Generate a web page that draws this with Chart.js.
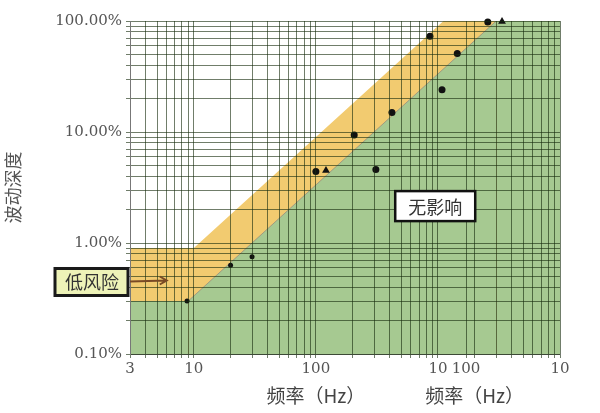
<!DOCTYPE html>
<html lang="zh">
<head>
<meta charset="UTF-8">
<title>波动深度</title>
<script src="https://cdn.jsdelivr.net/npm/chart.js@4.4.1/dist/chart.umd.min.js"></script>
<style>
html, body { margin: 0; padding: 0; background: #fff; }
#wrap { width: 600px; height: 413px; }
</style>
</head>
<body>
<div id="wrap"><canvas id="chart"></canvas></div>
<script>
// measured points: frequency (Hz) / fluctuation depth (%)
const dotFreq  = [8.8, 20, 30, 100, 206, 310, 420, 860, 1080, 1440, 2560];
const dotDepth = [0.3, 0.63, 0.75, 4.4, 9.4, 4.6, 15, 73, 24, 51, 98];
const triFreq  = [121, 3350];
const triDepth = [4.5, 99];

// zone edges (green = no effect, orange = low risk)
const lowEdgeFreq   = [3, 9, 3000, 10000];
const lowEdgeDepth  = [0.3, 0.3, 100, 100];
const highEdgeFreq  = [3, 10, 1110, 10000];
const highEdgeDepth = [0.9, 0.9, 100, 100];

// tick labels as printed on the picture
const xTickValues = [3, 10, 100, 1000, 1700, 10000];
const xTickLabels = ['3', '10', '100', '10', '100', '10'];
const yTickValues = [0.1, 1, 10, 100];
const yTickLabels = ['0.10%', '1.00%', '10.00%', '100.00%'];

const pts = (xs, ys) => xs.map((v, i) => ({ x: v, y: ys[i] }));

function gridTicks(min, max, extra) {
  const out = [];
  for (let e = -1; e <= 4; e++) {
    for (let m = 1; m <= 9; m++) {
      const v = +(m * Math.pow(10, e)).toPrecision(3);
      if (v >= min && v <= max) out.push(v);
    }
  }
  extra.forEach(v => { if (!out.includes(v)) out.push(v); });
  return out.sort((a, b) => a - b).map(v => ({ value: v }));
}

function labelFor(values, labels, v) {
  const i = values.findIndex(t => Math.abs(t - v) / t < 1e-6);
  return i < 0 ? '' : labels[i];
}

const serif = '"DejaVu Serif", "Liberation Serif", serif';
const cjk = '"Noto Sans CJK SC", sans-serif';

const notes = {
  id: 'notes',
  afterDraw(chart) {
    const { ctx, scales: { x, y } } = chart;
    ctx.save();

    // 无影响 box
    let cx = x.getPixelForValue(950), cy = y.getPixelForValue(2.15);
    ctx.fillStyle = '#fff';
    ctx.fillRect(cx - 40, cy - 15, 80, 30);
    ctx.lineWidth = 2.5;
    ctx.strokeStyle = '#111';
    ctx.strokeRect(cx - 40, cy - 15, 80, 30);
    ctx.fillStyle = '#333';
    ctx.font = '18px ' + cjk;
    ctx.textAlign = 'center';
    ctx.textBaseline = 'middle';
    ctx.fillText('无影响', cx, cy + 1);

    // 低风险 box + arrow
    cy = y.getPixelForValue(0.45);
    const right = x.left - 2;
    ctx.fillStyle = '#eef3b8';
    ctx.fillRect(right - 73, cy - 13, 73, 27);
    ctx.lineWidth = 3;
    ctx.strokeStyle = '#1a1a1a';
    ctx.strokeRect(right - 73, cy - 13, 73, 27);
    ctx.fillStyle = '#333';
    ctx.fillText('低风险', right - 36, cy + 1);

    const ax = x.getPixelForValue(6);
    ctx.strokeStyle = '#7a4a25';
    ctx.lineWidth = 2;
    ctx.beginPath();
    ctx.moveTo(right + 2, cy);
    ctx.lineTo(ax, cy - 1);
    ctx.moveTo(ax - 7, cy - 5);
    ctx.lineTo(ax, cy - 1);
    ctx.lineTo(ax - 7, cy + 3);
    ctx.stroke();

    // two axis titles, as in the stitched picture
    ctx.fillStyle = '#444';
    ctx.font = '19px ' + cjk;
    [100, 2000].forEach(f => {
      ctx.fillText('频率（Hz）', x.getPixelForValue(f), 396);
    });
    ctx.restore();
  }
};

const gridStyle = { color: 'rgba(25,45,15,0.62)', lineWidth: 1, tickLength: 4, z: 1 };

new Chart(document.getElementById('chart'), {
  type: 'scatter',
  data: {
    datasets: [
      {
        type: 'line',
        data: pts(highEdgeFreq, highEdgeDepth),
        backgroundColor: '#f2cb70',
        borderWidth: 0,
        pointRadius: 0,
        fill: 'start',
        order: 3
      },
      {
        type: 'line',
        data: pts(lowEdgeFreq, lowEdgeDepth),
        backgroundColor: '#a6c991',
        borderWidth: 1,
        borderColor: '#a09a80',
        segment: {
          borderColor: c => c.p0DataIndex === 1 ? '#a09a80' : 'rgba(0,0,0,0)'
        },
        pointRadius: 0,
        fill: 'start',
        order: 2
      },
      {
        data: pts(dotFreq, dotDepth),
        backgroundColor: '#111',
        borderWidth: 0,
        pointRadius: c => (c.raw && c.raw.y < 1 ? 2.5 : 3.5),
        clip: false,
        order: 1
      },
      {
        data: pts(triFreq, triDepth),
        pointStyle: 'triangle',
        backgroundColor: '#111',
        borderColor: '#111',
        borderWidth: 0,
        pointRadius: 4.5,
        clip: false,
        order: 0
      }
    ]
  },
  options: {
    responsive: true,
    maintainAspectRatio: false,
    animation: false,
    layout: { padding: { top: 21, right: 40, left: 0, bottom: 0 } },
    plugins: { legend: { display: false }, tooltip: { enabled: false } },
    scales: {
      x: {
        type: 'logarithmic',
        min: 3,
        max: 10000,
        afterBuildTicks: s => { s.ticks = gridTicks(3, 10000, [1700]); },
        afterFit: s => { s.height = 59; },
        grid: gridStyle,
        border: { color: '#777', z: 1 },
        ticks: {
          autoSkip: false,
          maxRotation: 0,
          padding: 2,
          color: '#555',
          font: { family: serif, size: 15 },
          callback: v => labelFor(xTickValues, xTickLabels, v)
        }
      },
      y: {
        type: 'logarithmic',
        min: 0.1,
        max: 100,
        afterBuildTicks: s => { s.ticks = gridTicks(0.1, 100, []); },
        afterFit: s => { s.width = 130; },
        grid: gridStyle,
        border: { color: '#777', z: 1 },
        title: {
          display: true,
          text: '波动深度',
          color: '#555',
          font: { family: cjk, size: 18 },
          padding: { top: 2, bottom: 0 }
        },
        ticks: {
          autoSkip: false,
          padding: 4,
          color: '#555',
          font: { family: serif, size: 15 },
          callback: v => labelFor(yTickValues, yTickLabels, v)
        }
      }
    }
  },
  plugins: [notes]
});
</script>
</body>
</html>
